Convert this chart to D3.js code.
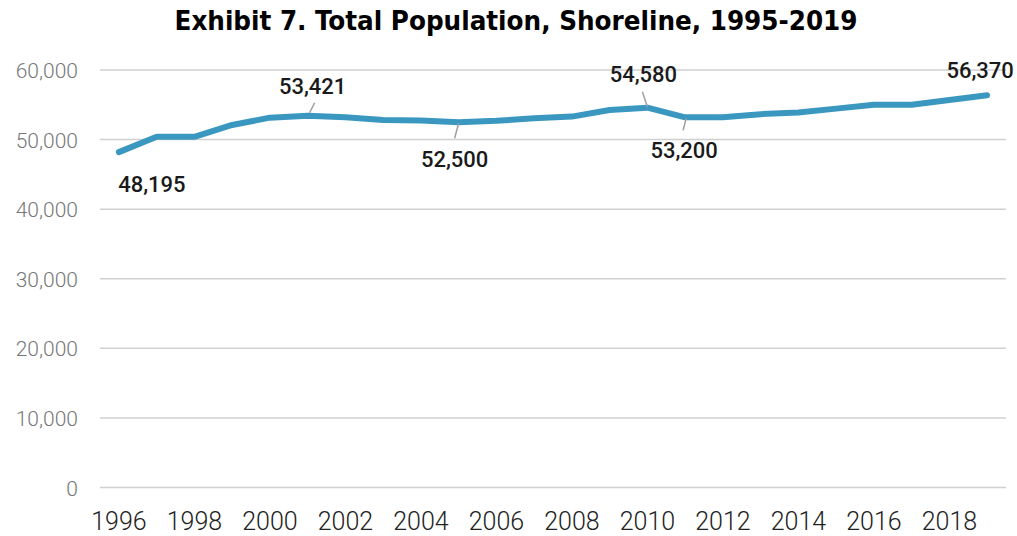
<!DOCTYPE html>
<html>
<head>
<meta charset="utf-8">
<script src="https://cdn.jsdelivr.net/npm/d3@7"></script>
<style>
  body { margin: 0; background: #fff; }
  svg { display: block; }
</style>
</head>
<body>
<div id="chart"></div>
<script>
const years = [1996, 1997, 1998, 1999, 2000, 2001, 2002, 2003, 2004, 2005, 2006, 2007,
               2008, 2009, 2010, 2011, 2012, 2013, 2014, 2015, 2016, 2017, 2018, 2019];
const population = [48195, 50400, 50400, 52100, 53150, 53421, 53200, 52800, 52750, 52500, 52700, 53050,
                    53300, 54250, 54580, 53200, 53200, 53650, 53900, 54450, 55000, 55000, 55700, 56370];
const yTicks = [0, 10000, 20000, 30000, 40000, 50000, 60000];
const xTickLabels = [1996, 1998, 2000, 2002, 2004, 2006, 2008, 2010, 2012, 2014, 2016, 2018];
const labelYears = [1996, 2001, 2005, 2010, 2011, 2019];

const WIDTH = 1017, HEIGHT = 536;
const MARGIN = {top: 70, right: 11, bottom: 48.5, left: 100};

const data = years.map((yr, i) => ({year: yr, value: population[i]}));

const svg = d3.select('#chart').append('svg')
    .attr('width', WIDTH)
    .attr('height', HEIGHT);

var x = d3.scaleBand()
    .domain(years)
    .range([MARGIN.left, WIDTH - MARGIN.right]);

var y = d3.scaleLinear()
    .domain([0, 60000])
    .range([HEIGHT - MARGIN.bottom, MARGIN.top]);

const cx = d => x(d) + x.bandwidth() / 2;

// title
svg.append('text')
    .attr('x', 516)
    .attr('y', 30)
    .attr('text-anchor', 'middle')
    .style('font-family', '"DejaVu Sans Condensed", "DejaVu Sans", sans-serif')
    .style('font-weight', 'bold')
    .style('font-size', '26px')
    .attr('textLength', 683)
    .attr('lengthAdjust', 'spacingAndGlyphs')
    .attr('fill', '#000')
    .text('Exhibit 7. Total Population, Shoreline, 1995-2019');

// gridlines
svg.append('g')
    .selectAll('line')
    .data(yTicks)
    .join('line')
    .attr('x1', MARGIN.left)
    .attr('x2', WIDTH - MARGIN.right)
    .attr('y1', d => y(d))
    .attr('y2', d => y(d))
    .attr('stroke', '#d0d0d0')
    .attr('stroke-width', 1.5);

// y axis
const yAxis = d3.axisLeft(y)
    .tickValues(yTicks)
    .tickSize(0)
    .tickPadding(0)
    .tickFormat(d3.format(','));

svg.append('g')
    .attr('transform', `translate(${MARGIN.left - 22},0)`)
    .call(yAxis)
    .call(g => g.select('.domain').remove())
    .selectAll('text')
    .attr('fill', '#777')
    .attr('dy', '0.36em')
    .style('font-family', 'Roboto, sans-serif')
    .style('font-weight', '300')
    .style('font-size', '21px');

// x axis
const xAxis = d3.axisBottom(x)
    .tickValues(xTickLabels)
    .tickSize(0)
    .tickPadding(0);

svg.append('g')
    .attr('transform', `translate(0,${HEIGHT - MARGIN.bottom + 25})`)
    .call(xAxis)
    .call(g => g.select('.domain').remove())
    .selectAll('text')
    .attr('fill', '#222')
    .attr('dy', '0.71em')
    .style('font-family', 'Roboto, sans-serif')
    .style('font-weight', '300')
    .style('font-size', '25px');

// line
const line = d3.line()
    .x(d => cx(d.year))
    .y(d => y(d.value));

svg.append('path')
    .datum(data)
    .attr('d', line)
    .attr('fill', 'none')
    .attr('stroke', '#3a98c0')
    .attr('stroke-width', 6)
    .attr('stroke-linejoin', 'round')
    .attr('stroke-linecap', 'round');

// data labels: text offset (dx, dy) and optional leader line
const labelLayout = {
    1996: {dx: 33, dy: 40, lead: null},
    2001: {dx: 5, dy: -22, lead: [2, -3, 7, -13]},
    2005: {dx: -4, dy: 45, lead: [0, 1, -4, 16]},
    2010: {dx: -4, dy: -26, lead: [0, -1, -5, -16]},
    2011: {dx: -1, dy: 41, lead: [1, 1, -2, 13]},
    2019: {dx: -7, dy: -17, lead: null}
};

const labels = svg.append('g')
    .selectAll('g')
    .data(data.filter(d => labelYears.includes(d.year)))
    .join('g')
    .attr('transform', d => `translate(${cx(d.year)},${y(d.value)})`);

labels.filter(d => labelLayout[d.year].lead)
    .append('line')
    .attr('x1', d => labelLayout[d.year].lead[0])
    .attr('y1', d => labelLayout[d.year].lead[1])
    .attr('x2', d => labelLayout[d.year].lead[2])
    .attr('y2', d => labelLayout[d.year].lead[3])
    .attr('stroke', '#a0a0a0')
    .attr('stroke-width', 1.5);

labels.append('text')
    .attr('x', d => labelLayout[d.year].dx)
    .attr('y', d => labelLayout[d.year].dy)
    .attr('text-anchor', 'middle')
    .attr('fill', '#1a1a1a')
    .style('font-family', 'Roboto, sans-serif')
    .style('font-weight', '500')
    .style('font-size', '22px')
    .text(d => d3.format(',')(d.value));
</script>
</body>
</html>
